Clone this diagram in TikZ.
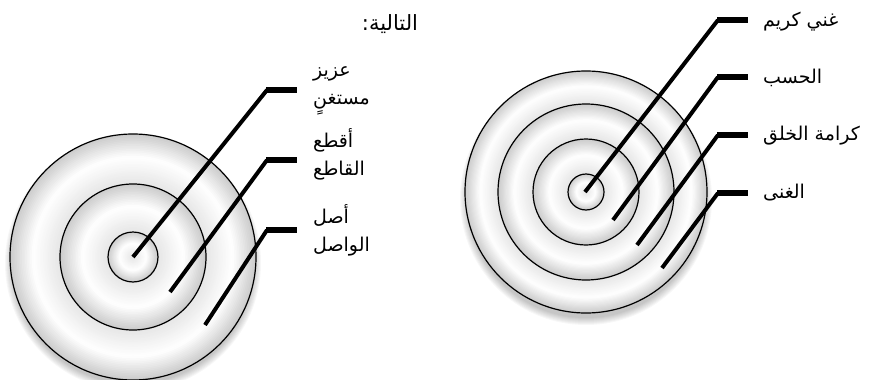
\documentclass[tikz,border=0pt]{standalone}
\usepackage{fontspec}
\newfontfamily\arabicfont[Script=Arabic]{DejaVu Sans}
\TeXXeTstate=1
\newcommand\ringband[4]{%
  \foreach \bandi in {0,...,30}{%
    \pgfmathsetmacro\bandr{#4-(#4-#3)*\bandi/30}%
    \pgfmathsetmacro\bandt{\bandi/30}%
    \pgfmathsetmacro\bandg{\bandt<0.45 ? 0.80+0.20*\bandt/0.45 : 1.0-0.10*(\bandt-0.45)/0.55}%
    \definecolor{bandc}{gray}{\bandg}%
    \fill[bandc] (#1,#2) circle[radius=\bandr pt];
  }}
\newcommand\ringshadow[3]{%
  \foreach \shk in {0,...,7}{%
    \pgfmathsetmacro\shr{#3+7-\shk}%
    \fill[black,opacity=0.03] (#1,#2) circle[radius=\shr pt];
  }}
\begin{document}
\begin{tikzpicture}[x=1pt,y=-1pt,
  ringline/.style={draw=black,line width=1.2pt},
  conn/.style={line width=4pt,line cap=butt},
  bar/.style={line width=6pt,line cap=butt},
  lab/.style={anchor=west,inner sep=0pt,align=left,font=\arabicfont\fontsize{19}{28}\selectfont},
  title/.style={inner sep=0pt,font=\arabicfont\fontsize{21}{24}\selectfont}]
\useasboundingbox (0,0) rectangle (873,380);
% ---------- left target ----------
\ringshadow{133}{263}{121}
\ringband{133}{257}{73}{123}
\ringband{133}{257}{25}{73}
\ringband{133}{257}{0}{25}
\draw[ringline] (133,257) circle[radius=123pt];
\draw[ringline] (133,257) circle[radius=73pt];
\draw[ringline] (133,257) circle[radius=25pt];
% ---------- right target ----------
\ringshadow{586}{199}{119}
\ringband{586}{192}{88}{121}
\ringband{586}{192}{53}{88}
\ringband{586}{192}{18}{53}
\ringband{586}{192}{0}{18}
\draw[ringline] (586,192) circle[radius=121pt];
\draw[ringline] (586,192) circle[radius=88pt];
\draw[ringline] (586,192) circle[radius=53pt];
\draw[ringline] (586,192) circle[radius=18pt];
% ---------- coordinates ----------
\coordinate (cA1) at (133,257); \coordinate (kA1) at (267,90);  \coordinate (eA1) at (297,90);
\coordinate (cA2) at (170,292); \coordinate (kA2) at (267,160); \coordinate (eA2) at (297,160);
\coordinate (cA3) at (205,325); \coordinate (kA3) at (267,230); \coordinate (eA3) at (297,230);
\coordinate (cB1) at (585,192); \coordinate (kB1) at (718,20);  \coordinate (eB1) at (748,20);
\coordinate (cB2) at (613,220); \coordinate (kB2) at (718,77);  \coordinate (eB2) at (748,77);
\coordinate (cB3) at (637,245); \coordinate (kB3) at (718,135); \coordinate (eB3) at (748,135);
\coordinate (cB4) at (662,268); \coordinate (kB4) at (718,193); \coordinate (eB4) at (748,193);
% ---------- connectors ----------
\foreach \n in {A1,A2,A3,B1,B2,B3,B4}{
  \draw[conn] (c\n) -- (k\n);
  \draw[bar] ([xshift=-1pt]k\n) -- (e\n);
}
% ---------- labels ----------
\node[lab] (tA1) at (313,91) {\beginR عزيز\endR\\\beginR مستغنٍ\endR};
\node[lab] (tA2) at (313,154) {\beginR أقطع\endR\\\beginR القاطع\endR};
\node[lab] (tA3) at (313,230) {\beginR أصل\endR\\\beginR الواصل\endR};
\node[lab] (tB1) at (763,22) {\beginR غني كريم\endR};
\node[lab] (tB2) at (763,78) {\beginR الحسب\endR};
\node[lab] (tB3) at (763,136) {\beginR كرامة الخلق\endR};
\node[lab] (tB4) at (763,193) {\beginR الغنى\endR};
\node[title] (ttl) at (390,24) {\beginR التالية:\endR};
\end{tikzpicture}
\end{document}
